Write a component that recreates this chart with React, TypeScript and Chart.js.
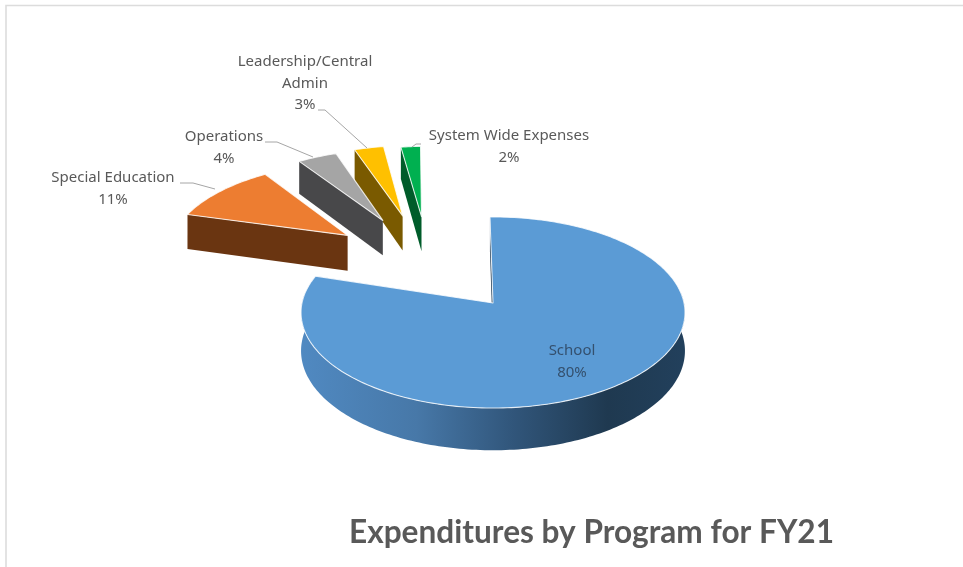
import React, { useEffect, useRef } from "react";
import { Chart, registerables } from "chart.js";

Chart.register(...registerables);

// Share of spending per program, clockwise from the top of the disc.
const programs = ["School", "Special Education", "Operations", "Leadership/Central Admin", "System Wide Expenses"];
const shares = [80, 11, 4, 3, 2];
const explode = [0, 1, 0.97, 1, 1];

const topColors = ["#5B9BD5", "#ED7D31", "#A5A5A5", "#FFC000", "#00B050"];
const sideColors = ["#1f3a52", "#6a3511", "#48484a", "#7a5a00", "#005c2a"];

const labelLines = [["School", "80%"], ["Special Education", "11%"], ["Operations", "4%"], ["Leadership/Central", "Admin", "3%"], ["System Wide Expenses", "2%"]];
const labelAnchors = [[572, 351], [113, 178], [224, 137], [305, 62], [509, 136]];
const leaderPaths = [
  [],
  [[180, 183], [193, 183], [215, 189]],
  [[265, 142], [277, 142], [313, 157]],
  [[318, 110], [325, 110], [367, 148]],
  [[421, 144], [416, 144], [412, 147]],
];

// Perspective view of the disc plane: u runs right, v runs towards the viewer.
const view = { cx: 493, cy: 303, rx: 191, ry: 94.6, persp: 0.0995, depth: 38 };
// How the explosion vector of a slice lands on the disc plane, plus the small
// turn and shrink the pulled-out slices take on their way out.
const explodeMap = { uu: 0.76, uv: 0.352, vu: 0.22, vv: 0.99 };
const explodedTurn = -0.026;
const explodedRadius = 0.98;

const LABEL_FONT = '15px "Noto Sans"';
const TEXT = "#595959";

function project(u: number, v: number, drop = 0) {
  const w = 1 - view.persp * v;
  return { x: view.cx + (view.rx * u) / w, y: view.cy + (view.ry * v) / w + (drop * view.depth) / w };
}

function sliceGeometry(arc: any, index: number) {
  const mid = (arc.startAngle + arc.endAngle) / 2;
  const k = explode[index];
  const a = Math.cos(mid);
  const b = Math.sin(mid);
  const du = k * (explodeMap.uu * a + explodeMap.uv * b);
  const dv = k * (explodeMap.vu * a + explodeMap.vv * b);
  return k === 0 ? { du: 0, dv: 0, turn: 0, radius: 1 } : { du, dv, turn: explodedTurn, radius: explodedRadius };
}

function tracePoints(ctx: CanvasRenderingContext2D, points: { x: number; y: number }[]) {
  ctx.beginPath();
  points.forEach((p, i) => (i ? ctx.lineTo(p.x, p.y) : ctx.moveTo(p.x, p.y)));
  ctx.closePath();
}

function rimAngles(start: number, end: number) {
  const steps = Math.max(8, Math.ceil((end - start) / 0.02));
  return Array.from({ length: steps + 1 }, (_, i) => start + ((end - start) * i) / steps);
}

const tiltedPie = {
  id: "tiltedPie",
  beforeDraw(chart: any) {
    const { ctx, width, height } = chart;
    ctx.save();
    ctx.fillStyle = "#ffffff";
    ctx.fillRect(0, 0, width, height);
    ctx.strokeStyle = "#dcdcdc";
    ctx.lineWidth = 1.6;
    ctx.beginPath();
    ctx.moveTo(6, height);
    ctx.lineTo(6, 5.5);
    ctx.lineTo(width, 5.5);
    ctx.stroke();
    ctx.restore();
  },
  beforeDatasetsDraw(chart: any) {
    const { ctx } = chart;
    const arcs = chart.getDatasetMeta(0).data;
    ctx.save();
    for (let i = arcs.length - 1; i >= 0; i--) {
      const arc = arcs[i];
      const { du, dv, turn, radius } = sliceGeometry(arc, i);
      const start = arc.startAngle + turn;
      const end = arc.endAngle + turn;
      const at = (angle: number, drop = 0, r = radius) => project(du + r * Math.cos(angle), dv + r * Math.sin(angle), drop);

      // Cut face along the leading edge of the slice.
      tracePoints(ctx, [at(start, 0, 0), at(start), at(start, 1), at(start, 1, 0)]);
      ctx.fillStyle = sideColors[i];
      ctx.fill();

      // Outer wall, only where the rim faces the viewer.
      const from = Math.max(start, -0.12);
      const to = Math.min(end, Math.PI + 0.12);
      if (to > from) {
        const angles = rimAngles(from, to);
        tracePoints(ctx, [...angles.map((t) => at(t)), ...angles.slice().reverse().map((t) => at(t, 1))]);
        const wall = ctx.createLinearGradient(view.cx - view.rx, 0, view.cx + view.rx, 0);
        wall.addColorStop(0, "#5089c1");
        wall.addColorStop(0.3, "#4778a8");
        wall.addColorStop(0.55, "#31567b");
        wall.addColorStop(0.8, "#1f3950");
        wall.addColorStop(1, "#22405c");
        ctx.fillStyle = wall;
        ctx.fill();
      }

      // Top face of the slice, coloured by the arc's own options.
      tracePoints(ctx, [at(0, 0, 0), ...rimAngles(start, end).map((t) => at(t))]);
      ctx.fillStyle = arc.options.backgroundColor;
      ctx.fill();
      ctx.strokeStyle = arc.options.borderColor;
      ctx.lineWidth = arc.options.borderWidth;
      ctx.lineJoin = "round";
      ctx.stroke();
    }
    ctx.restore();
    return false;
  },
  afterDraw(chart: any) {
    const { ctx } = chart;
    ctx.save();
    ctx.font = LABEL_FONT;
    ctx.textAlign = "center";
    ctx.textBaseline = "middle";
    labelLines.forEach((lines, i) => {
      ctx.fillStyle = i === 0 ? "#34506e" : TEXT;
      lines.forEach((line, j) => ctx.fillText(line, labelAnchors[i][0], labelAnchors[i][1] + j * 21.5));
      const path = leaderPaths[i];
      if (path.length) {
        ctx.strokeStyle = "#a6a6a6";
        ctx.lineWidth = 1;
        ctx.beginPath();
        path.forEach((p, k) => (k ? ctx.lineTo(p[0], p[1]) : ctx.moveTo(p[0], p[1])));
        ctx.stroke();
      }
    });
    ctx.restore();
  },
};

export default function App() {
  const ref = useRef<HTMLCanvasElement>(null);
  useEffect(() => {
    const chart = new Chart(ref.current as HTMLCanvasElement, {
      type: "pie",
      data: {
        labels: programs,
        datasets: [{ data: shares, backgroundColor: topColors, borderColor: "rgba(255,255,255,0.8)", borderWidth: 1.1 }],
      },
      options: {
        responsive: false,
        animation: false,
        rotation: -1,
        layout: { padding: { right: 129, bottom: 15 } },
        plugins: {
          legend: { display: false },
          tooltip: { enabled: false },
          title: {
            display: true,
            text: "Expenditures by Program for FY21",
            position: "bottom",
            align: "end",
            color: "#595959",
            font: { family: "Lato", size: 31.6, weight: "bold" },
            padding: 0,
          },
        },
      },
      plugins: [tiltedPie],
    } as any);
    return () => chart.destroy();
  }, []);
  return (
    <div style={{ position: "fixed", left: 0, top: 0 }}>
      <canvas ref={ref} width={963} height={567} style={{ display: "block" }} />
    </div>
  );
}
